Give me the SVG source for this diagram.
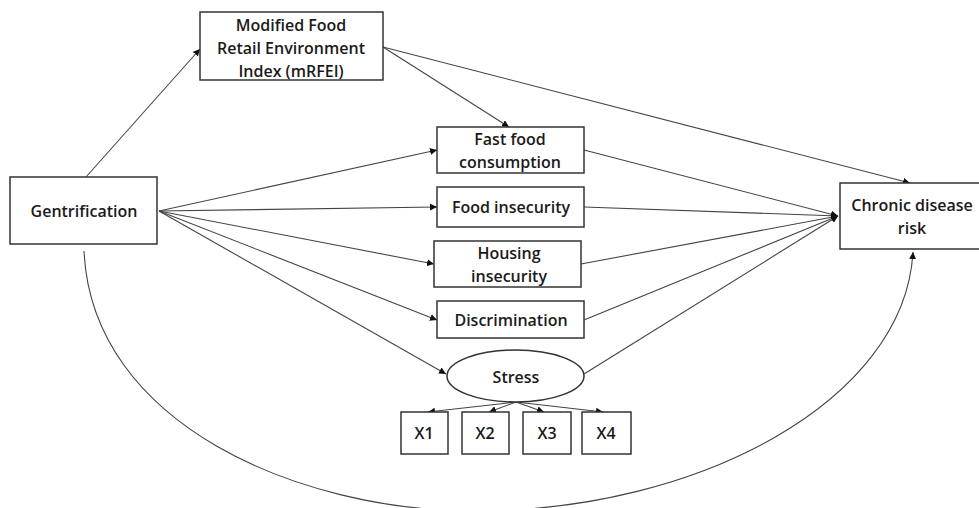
<svg xmlns="http://www.w3.org/2000/svg" width="979" height="508" viewBox="0 0 979 508">
<defs>
<marker id="ah" viewBox="0 0 10 10" refX="10" refY="5" markerWidth="7" markerHeight="7" markerUnits="userSpaceOnUse" orient="auto">
<path d="M0,0 L10,5 L0,10 z" fill="#111"/>
</marker>
<style>
.box{fill:#fff;stroke:#333;stroke-width:1.5}
.t{font-family:"Open Sans","Liberation Sans",Arial,sans-serif;font-size:16px;font-weight:600;fill:#1a1a1a;text-anchor:middle;dominant-baseline:central}
.c{fill:none;stroke:#444;stroke-width:1.1;marker-end:url(#ah)}
</style>
</defs>
<rect width="979" height="508" fill="#fff"/>
<g id="connectors">
<line class="c" x1="86" y1="177" x2="200" y2="49"/>
<line class="c" x1="159" y1="211" x2="437" y2="150"/>
<line class="c" x1="159" y1="211" x2="437" y2="207"/>
<line class="c" x1="159" y1="211" x2="434" y2="264"/>
<line class="c" x1="159" y1="211" x2="437" y2="320"/>
<line class="c" x1="159" y1="211" x2="446" y2="374"/>
<line class="c" x1="383" y1="47" x2="509" y2="127"/>
<line class="c" x1="383" y1="47" x2="910" y2="183"/>
<line class="c" x1="584" y1="150" x2="838" y2="216"/>
<line class="c" x1="584" y1="207" x2="838" y2="216"/>
<line class="c" x1="581" y1="264" x2="838" y2="216"/>
<line class="c" x1="584" y1="320" x2="838" y2="216"/>
<line class="c" x1="584" y1="374" x2="838" y2="216"/>
<line class="c" x1="516" y1="402" x2="428" y2="412"/>
<line class="c" x1="516" y1="402" x2="489" y2="412"/>
<line class="c" x1="516" y1="402" x2="544" y2="412"/>
<line class="c" x1="516" y1="402" x2="603" y2="412"/>
<path class="c" d="M84,251 C92,425 300,511 475,511 C700,511 905,400 913,252"/>
</g>
<g id="mrfei">
<rect class="box" x="200" y="12" width="183" height="68"/>
<text class="t" x="291" y="25">Modified Food</text>
<text class="t" x="291" y="48">Retail Environment</text>
<text class="t" x="291" y="71">Index (mRFEI)</text>
</g>
<g id="gentrification">
<rect class="box" x="10" y="177" width="147" height="67"/>
<text class="t" x="84" y="211">Gentrification</text>
</g>
<g id="fastfood">
<rect class="box" x="437" y="127" width="147" height="46"/>
<text class="t" x="510" y="139">Fast food</text>
<text class="t" x="510" y="162">consumption</text>
</g>
<g id="foodinsecurity">
<rect class="box" x="437" y="187" width="147" height="40"/>
<text class="t" x="511" y="207">Food insecurity</text>
</g>
<g id="housing">
<rect class="box" x="434" y="241" width="147" height="46"/>
<text class="t" x="509" y="253">Housing</text>
<text class="t" x="509" y="276">insecurity</text>
</g>
<g id="discrimination">
<rect class="box" x="437" y="301" width="147" height="37"/>
<text class="t" x="511" y="320">Discrimination</text>
</g>
<g id="stress">
<ellipse class="box" cx="515.5" cy="376" rx="68.5" ry="26"/>
<text class="t" x="516" y="377">Stress</text>
</g>
<g id="x1">
<rect class="box" x="401" y="412" width="47" height="42"/>
<text class="t" x="424" y="433">X1</text>
</g>
<g id="x2">
<rect class="box" x="462" y="412" width="47" height="42"/>
<text class="t" x="485" y="433">X2</text>
</g>
<g id="x3">
<rect class="box" x="523" y="412" width="48" height="42"/>
<text class="t" x="547" y="433">X3</text>
</g>
<g id="x4">
<rect class="box" x="582" y="412" width="49" height="42"/>
<text class="t" x="606" y="433">X4</text>
</g>
<g id="chronic">
<rect class="box" x="840" y="183" width="145" height="66"/>
<text class="t" x="912" y="205">Chronic disease</text>
<text class="t" x="912" y="228">risk</text>
</g>
</svg>
